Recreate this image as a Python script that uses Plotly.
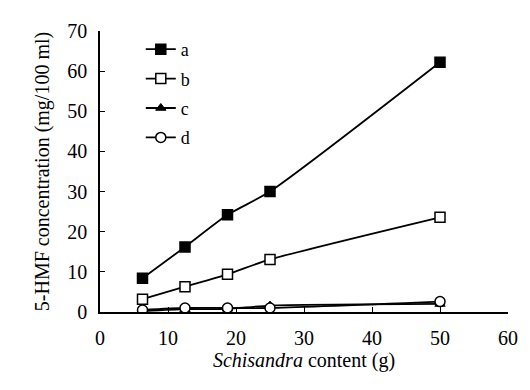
import plotly.graph_objects as go

x_content = [6.25, 12.5, 18.75, 25, 50]
series_a = [8.4, 16.2, 24.2, 30.0, 62.2]
series_b = [3.2, 6.3, 9.4, 13.1, 23.6]
series_c = [0.2, 0.7, 0.8, 1.6, 2.0]
series_d = [0.5, 1.0, 1.0, 1.0, 2.6]
names = ["a", "b", "c", "d"]
x_ticks = [0, 10, 20, 30, 40, 50, 60]
y_ticks = [0, 10, 20, 30, 40, 50, 60, 70]

FONT = "Liberation Serif"
styles = [
    dict(symbol="square", size=10, color="black", line=dict(color="black", width=1.5)),
    dict(symbol="square", size=10, color="white", line=dict(color="black", width=1.5)),
    dict(symbol="triangle-up", size=9, color="black", line=dict(color="black", width=1)),
    dict(symbol="circle", size=10, color="white", line=dict(color="black", width=1.5)),
]

fig = go.Figure()
for i, (nm, ys) in enumerate(zip(names, [series_a, series_b, series_c, series_d])):
    st = styles[i]
    fig.add_trace(go.Scatter(
        x=x_content, y=ys, name=nm, mode="lines+markers",
        legendgroup=nm,
        line=dict(color="black", width=1.8, shape="spline", smoothing=0.6),
        marker=dict(symbol=st["symbol"], size=st["size"], color=st["color"], line=st["line"]),
    ))

# body has an 8px default margin; figure is sized so the plot area lands at x 100-517, y 21-312
fig.update_layout(
    width=522, height=382,
    margin=dict(l=92, r=13, t=13, b=78),
    paper_bgcolor="white", plot_bgcolor="white",
    font=dict(family=FONT, size=20, color="black"),
    showlegend=True,
    legend=dict(x=0.1, y=1.0, xanchor="left", yanchor="top",
                bgcolor="rgba(0,0,0,0)", font=dict(size=18), tracegroupgap=3),
    xaxis=dict(range=[0, 60], tickvals=x_ticks, showline=True, linecolor="black",
               linewidth=1.5, ticks="inside", ticklen=5, tickcolor="black",
               showgrid=False, zeroline=False, ticklabelstandoff=7,
               title=dict(text="<i>Schisandra</i> content (g)", standoff=5,
                          font=dict(size=20))),
    yaxis=dict(range=[0, 70], tickvals=y_ticks, showline=True, linecolor="black",
               linewidth=1.5, ticks="inside", ticklen=5, tickcolor="black",
               showgrid=False, zeroline=False, ticklabelstandoff=7,
               title=dict(text="5-HMF concentration (mg/100 ml)", standoff=12,
                          font=dict(size=20))),
)

fig.write_html("out.html")
